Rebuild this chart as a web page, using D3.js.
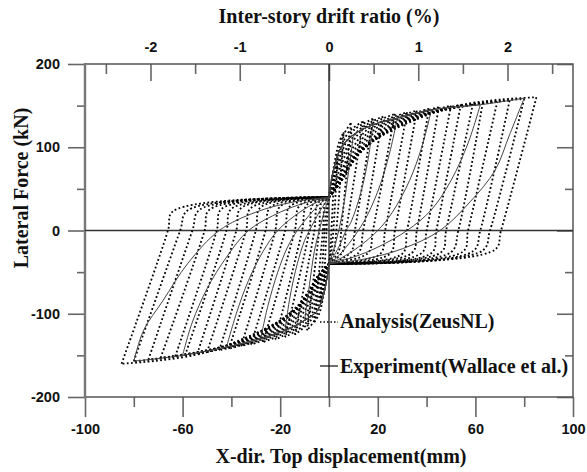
<!DOCTYPE html>
<html>
<head>
<meta charset="utf-8">
<script src="https://cdn.jsdelivr.net/npm/d3@7"></script>
<style>
body { margin: 0; background: #fff; }
.tick text { font-family: "Liberation Sans", Arial, sans-serif; font-weight: bold; font-size: 14.5px; fill: #111; }
.tick line { stroke: #666; stroke-width: 1.6; }
.title { font-family: "Liberation Serif", "Times New Roman", serif; font-weight: bold; font-size: 20px; fill: #111; }
.legend { font-family: "Liberation Serif", "Times New Roman", serif; font-weight: bold; font-size: 20px; fill: #111; }
</style>
</head>
<body>
<svg id="chart"></svg>
<script>
// experiment (solid): envelopes + one unloading branch per cycle
const expEnvPos = [[0,40],[1,60],[2.5,80],[5,100],[10,115],[18,127],[28,135],[42,145],[62,151],[80,159]];
const expEnvNeg = [[0,-40],[-1,-60],[-2.5,-80],[-5,-97],[-10,-108],[-18,-120],[-28,-130],[-42,-140],[-60,-150],[-80,-157]];
const expUnloadPos = [
  [[10,115],[8,70],[6,30],[4,0],[2,-22],[0,-40]],
  [[18,127],[16,85],[13,45],[9,10],[7,0],[4,-20],[0,-40]],
  [[28,135],[25,95],[21,55],[16,20],[12,0],[7,-20],[3,-33],[0,-40]],
  [[42,145],[38,100],[33,60],[26,22],[20,0],[12,-20],[5,-33],[0,-40]],
  [[62,151],[57,105],[50,60],[42,25],[32,0],[20,-20],[10,-32],[0,-40]],
  [[80,159],[74,115],[68,72],[58,35],[45.5,0],[30,-22],[15,-34],[0,-40]]
];
const expUnloadNeg = [
  [[-10,-108],[-8,-65],[-6,-25],[-4,0],[-2,22],[0,40]],
  [[-18,-120],[-16,-80],[-13,-40],[-10,-12],[-8,0],[-4,22],[0,40]],
  [[-28,-130],[-25,-90],[-21,-50],[-17,-20],[-13,0],[-7,22],[-3,34],[0,40]],
  [[-42,-140],[-38,-100],[-33,-60],[-27,-25],[-21,0],[-12,22],[-5,34],[0,40]],
  [[-60,-150],[-56,-110],[-50,-70],[-42,-32],[-33,0],[-20,22],[-10,33],[0,40]],
  [[-80,-157],[-76,-120],[-68,-84],[-58,-40],[-45,0],[-30,22],[-15,34],[0,40]]
];

// analysis (dotted): per cycle peaks, reload knees, unload crossing + foot
const anaPeaksPos = [[2,62],[3.5,88],[6,118],[9,129],[14,131],[18,134],[22,137],[27,140],[32,142],[36,144],[41,146],[45,148],[50,150],[54,151],[59,152],[63,153],[69,155],[74,156],[80,158],[85,160]];
const anaReloadPos = [
  [[0.5,48]], [[1,55],[2,70]],
  [[1,60],[2.5,85],[4,105]], [[1,58],[3,85],[6,115]], [[1.5,60],[4,90],[8,118]],
  [[2,62],[5,92],[10,120]], [[2,60],[6,92],[12,120]], [[2.5,58],[7,92],[14,122]],
  [[3,56],[8,90],[16,122]], [[3,56],[9,90],[18,123]], [[3.5,56],[10,90],[20,124]],
  [[4,57],[11,91],[22,125]], [[4,57],[12,92],[25,127]], [[4,57],[12,92],[27,128]],
  [[4.5,57],[13,94],[30,131]], [[4.5,57],[13,94],[33,133]], [[4.5,57],[13,96],[36,136]],
  [[4.5,57],[13,96],[40,140]], [[4.5,57],[12.7,96],[45,144]], [[4.5,57],[12.7,96],[50,148]]
];
const anaUnloadPos = [
  [[1,0],[0.5,-25]], [[1.8,0],[1,-25]],
  [[3,0],[2,-25]], [[5,0],[4,-25]], [[7,0],[5.5,-26]], [[10.6,0],[9,-26]],
  [[14,0],[12,-27]], [[18,0],[16,-27]], [[23,0],[21,-28]], [[27,0],[25,-28]],
  [[32,0],[30,-28]], [[36,0],[34,-27]], [[40,0],[38,-27]], [[44,0],[42,-27]],
  [[48,0],[46,-26]], [[53,0],[50,-26]], [[57,0],[55,-25]], [[62,0],[59,-25]],
  [[66,0],[63,-24]], [[70.5,0],[68,-23]]
];
const anaPeaksNeg = [[-2,-60],[-3.5,-85],[-6,-110],[-9,-120],[-14,-125],[-18,-128],[-22,-131],[-27,-134],[-32,-137],[-36,-139],[-41,-142],[-45,-144],[-50,-146],[-54,-148],[-59,-150],[-63,-151],[-69,-153],[-74,-155],[-80,-157],[-85,-160]];
const anaReloadNeg = [
  [[-0.5,-48]], [[-1,-55],[-2,-70]],
  [[-1,-58],[-2.5,-82],[-4,-100]], [[-1,-56],[-3,-82],[-6,-108]], [[-1.5,-58],[-4,-86],[-8,-110]],
  [[-2,-60],[-5,-88],[-10,-113]], [[-2,-58],[-6,-88],[-12,-114]], [[-2.5,-56],[-7,-88],[-14,-116]],
  [[-3,-55],[-8,-87],[-16,-117]], [[-3,-55],[-9,-87],[-18,-118]], [[-3.5,-55],[-10,-87],[-20,-120]],
  [[-4,-55],[-11,-88],[-22,-121]], [[-4,-55],[-12,-89],[-25,-124]], [[-4,-55],[-12,-89],[-27,-125]],
  [[-4.5,-55],[-13,-91],[-30,-128]], [[-4.5,-55],[-13,-91],[-33,-130]], [[-4.5,-55],[-13,-93],[-36,-133]],
  [[-4.5,-55],[-13,-93],[-40,-137]], [[-4.5,-55],[-12.7,-93],[-45,-141]], [[-4.5,-55],[-12.7,-93],[-50,-146]]
];
const anaUnloadNeg = [
  [[-1,0],[-0.5,25]], [[-1.8,0],[-1,25]],
  [[-2.5,0],[-1.5,35]], [[-4,0],[-3,34]], [[-6,0],[-4.5,33]], [[-8,0],[-6.5,32]],
  [[-11,0],[-9,31]], [[-14,0],[-12,30]], [[-18,0],[-16,29]], [[-22,0],[-20,29]],
  [[-26,0],[-24,28]], [[-30,0],[-28,28]], [[-34,0],[-32,27]], [[-38,0],[-36,27]],
  [[-42,0],[-40,26]], [[-46,0],[-44,26]], [[-51,0],[-49,25]], [[-56,0],[-53,25]],
  [[-61,0],[-58,24]], [[-66,0],[-64,23]]
];

const bottomTicks = [-100, -60, -20, 20, 60, 100];
const bottomMinor = [-80, -40, 0, 40, 80];
const leftTicks = [-200, -100, 0, 100, 200];
const leftMinor = [-150, -50, 50, 150];
const driftTicks = [-2, -1, 0, 1, 2];
const driftMinor = [-2.5, -1.5, -0.5, 0.5, 1.5, 2.5];
const storyHeight = 36.58; // mm of top displacement per 1 % drift

const width = 587, height = 472;
const svg = d3.select('svg#chart').attr('width', width).attr('height', height);

const x = d3.scaleLinear().domain([-100, 100]).range([85, 573]);
const y = d3.scaleLinear().domain([-200, 200]).range([397, 64]);
const xd = d3.scaleLinear().domain([-100 / storyHeight, 100 / storyHeight]).range([85, 573]);
const plain = d => String(d);

// axes
function axisGroup(axis, tx, ty) {
  const g = svg.append('g').attr('transform', 'translate(' + tx + ',' + ty + ')').call(axis);
  g.select('.domain').remove();
  return g;
}
axisGroup(d3.axisBottom(x).tickValues(bottomTicks).tickSize(20).tickPadding(7).tickFormat(plain), 0, 397);
axisGroup(d3.axisBottom(x).tickValues(bottomMinor).tickSize(10).tickFormat(''), 0, 397);
axisGroup(d3.axisLeft(y).tickValues(leftTicks).tickSize(17).tickPadding(8).tickFormat(plain), 85, 0);
axisGroup(d3.axisLeft(y).tickValues(leftMinor).tickSize(8).tickFormat(''), 85, 0);
axisGroup(d3.axisTop(xd).tickValues(driftTicks).tickSizeInner(-17).tickSizeOuter(0).tickPadding(12).tickFormat(plain), 0, 64);
axisGroup(d3.axisTop(xd).tickValues(driftMinor).tickSizeInner(-10).tickSizeOuter(0).tickFormat(''), 0, 64);
axisGroup(d3.axisRight(y).tickValues(leftTicks).tickSizeInner(-16).tickSizeOuter(0).tickFormat(''), 573, 0);
axisGroup(d3.axisRight(y).tickValues(leftMinor).tickSizeInner(-8).tickSizeOuter(0).tickFormat(''), 573, 0);

// frame
svg.append('rect').attr('x', 85).attr('y', 64).attr('width', 488).attr('height', 333)
  .attr('fill', 'none').attr('stroke', '#555').attr('stroke-width', 1.5);
svg.append('line').attr('x1', 85).attr('x2', 85).attr('y1', 63).attr('y2', 398)
  .attr('stroke', '#777').attr('stroke-width', 2.4);

// zero lines
svg.append('line').attr('x1', x(0)).attr('x2', x(0)).attr('y1', 64).attr('y2', 397).attr('stroke', '#222').attr('stroke-width', 1.3);
svg.append('line').attr('x1', 85).attr('x2', 573).attr('y1', y(0)).attr('y2', y(0)).attr('stroke', '#333').attr('stroke-width', 1.5);

const line = d3.line().x(d => x(d[0])).y(d => y(d[1])).curve(d3.curveCatmullRom.alpha(0.5));

// analysis loops, one path per branch so peaks stay sharp
anaPeaksPos.forEach((pk, i) => {
  const nk = anaPeaksNeg[i];
  const branches = [
    [[0, 40]].concat(anaReloadPos[i], [pk]),
    [pk].concat(anaUnloadPos[i], [[0, -40]]),
    [[0, -40]].concat(anaReloadNeg[i], [nk]),
    [nk].concat(anaUnloadNeg[i], [[0, 40]])
  ];
  branches.forEach(b => {
    svg.append('path').attr('d', line(b)).attr('fill', 'none')
      .attr('stroke', '#000').attr('stroke-width', 1.8).attr('stroke-dasharray', '1.8 2.4');
  });
});

// experiment loops
expUnloadPos.forEach((un, i) => {
  const pk = un[0], nk = expUnloadNeg[i][0];
  const branches = [
    expEnvPos.filter(p => p[0] < pk[0]).concat([pk]),
    un,
    expEnvNeg.filter(p => p[0] > nk[0]).concat([nk]),
    expUnloadNeg[i]
  ];
  branches.forEach(b => {
    svg.append('path').attr('d', line(b)).attr('fill', 'none').attr('stroke', '#444').attr('stroke-width', 1);
  });
});

// titles
svg.append('text').attr('class', 'title').attr('x', 329).attr('y', 23).attr('text-anchor', 'middle').text('Inter-story drift ratio (%)');
svg.append('text').attr('class', 'title').attr('x', 341).attr('y', 463).attr('text-anchor', 'middle').text('X-dir. Top displacement(mm)');
svg.append('text').attr('class', 'title').attr('transform', 'translate(28,188) rotate(-90)').attr('text-anchor', 'middle').text('Lateral Force (kN)');

// legend
svg.append('line').attr('x1', 320).attr('x2', 338).attr('y1', 322).attr('y2', 322)
  .attr('stroke', '#000').attr('stroke-width', 1.5).attr('stroke-dasharray', '1.5 2');
svg.append('text').attr('class', 'legend').attr('x', 340).attr('y', 328).text('Analysis(ZeusNL)');
svg.append('line').attr('x1', 320).attr('x2', 338).attr('y1', 366).attr('y2', 366).attr('stroke', '#111').attr('stroke-width', 1.2);
svg.append('text').attr('class', 'legend').attr('x', 340).attr('y', 373).text('Experiment(Wallace et al.)');
</script>
</body>
</html>
